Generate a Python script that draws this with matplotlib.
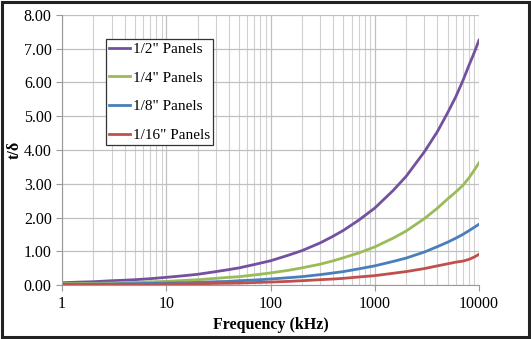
import matplotlib.pyplot as plt
from matplotlib.patches import Rectangle
from matplotlib.ticker import FixedLocator, LogLocator, NullFormatter

# frequency points (kHz) and t/delta
freq = [1, 1.5, 2, 3, 4, 5, 7, 10, 15, 20, 30, 40, 50, 70, 100, 150, 200, 300, 400, 500,
        700, 1000, 1500, 2000, 3000, 4000, 5000, 6000, 7000, 8000, 9000, 10000]
half = [0.07, 0.09, 0.10, 0.13, 0.145, 0.16, 0.19, 0.23, 0.28, 0.32, 0.40, 0.46, 0.51, 0.61, 0.72,
        0.89, 1.02, 1.25, 1.45, 1.62, 1.92, 2.28, 2.80, 3.22, 3.95, 4.55, 5.10, 5.58, 6.05, 6.50,
        6.88, 7.25]
quarter = [0.04, 0.045, 0.05, 0.06, 0.07, 0.08, 0.095, 0.11, 0.14, 0.16, 0.20, 0.23, 0.25, 0.30,
           0.36, 0.44, 0.51, 0.62, 0.72, 0.81, 0.95, 1.13, 1.39, 1.60, 1.97, 2.28, 2.55, 2.76,
           2.95, 3.17, 3.40, 3.62]
eighth = [0.02, 0.02, 0.03, 0.03, 0.04, 0.04, 0.05, 0.06, 0.07, 0.08, 0.10, 0.11, 0.13, 0.15,
          0.18, 0.22, 0.25, 0.31, 0.36, 0.40, 0.48, 0.57, 0.70, 0.80, 0.98, 1.14, 1.27, 1.39,
          1.50, 1.61, 1.71, 1.80]
sixteenth = [0.01, 0.01, 0.01, 0.02, 0.02, 0.02, 0.02, 0.03, 0.035, 0.04, 0.05, 0.055, 0.06,
             0.075, 0.09, 0.11, 0.13, 0.16, 0.18, 0.20, 0.24, 0.28, 0.35, 0.40, 0.49, 0.57,
             0.63, 0.68, 0.71, 0.76, 0.83, 0.91]

labels = ['1/2" Panels', '1/4" Panels', '1/8" Panels', '1/16" Panels']
colors = ["#7451A0", "#9BBB59", "#4A7EBB", "#C0504D"]
y_ticks = [0, 1, 2, 3, 4, 5, 6, 7, 8]

plt.rcParams['font.family'] = ['Liberation Serif', 'DejaVu Serif']

fig = plt.figure(figsize=(5.31, 3.39), dpi=100)
ax = fig.add_axes([0.117, 0.159, 0.785, 0.797])

for ys, lab, c in zip([half, quarter, eighth, sixteenth], labels, colors):
    ax.plot(freq, ys, color=c, lw=2, label=lab, solid_joinstyle='round')

ax.set_xscale('log')
ax.set_xlim(1, 10000)
ax.set_ylim(0, 8)
ax.yaxis.set_major_locator(FixedLocator(y_ticks))
ax.set_yticklabels([f"{v:.2f}" for v in y_ticks])
ax.xaxis.set_minor_locator(LogLocator(base=10, subs=range(2, 10)))
ax.xaxis.set_minor_formatter(NullFormatter())
ax.set_xticks([1, 10, 100, 1000, 10000])
ax.set_xticklabels(["1", "10", "100", "1000", "10000"])

ax.grid(True, which='major', color='#C0C0C0', lw=0.9)
ax.grid(True, which='minor', axis='x', color='#D0D0D0', lw=0.8)
ax.set_axisbelow(True)
for s in ['top', 'right']:
    ax.spines[s].set_visible(False)
for s in ['left', 'bottom']:
    ax.spines[s].set_color('#999999')
ax.tick_params(axis='both', which='major', labelsize=11.5, length=4, color='#999999')
ax.tick_params(axis='x', which='minor', length=0)

ax.set_xlabel("Frequency (kHz)", fontsize=11.5, fontweight='bold', labelpad=4)
ax.set_ylabel("t/δ", fontsize=11.5, fontweight='bold', labelpad=1)

leg = ax.legend(loc='upper left', bbox_to_anchor=(0.105, 0.91), fontsize=11,
                frameon=True, fancybox=False, handlelength=1.4, handletextpad=0.15,
                labelspacing=0.98, borderpad=0.2, borderaxespad=0)
leg.get_frame().set_edgecolor('#333333')
leg.get_frame().set_linewidth(0.9)
leg.get_frame().set_alpha(1)

# outer frame around the picture
fig.patches.append(Rectangle((0.004, 0.006), 0.992, 0.988, transform=fig.transFigure,
                             fill=False, edgecolor='#222222', lw=2.2))

fig.savefig("out.png", dpi=100)
plt.close(fig)
